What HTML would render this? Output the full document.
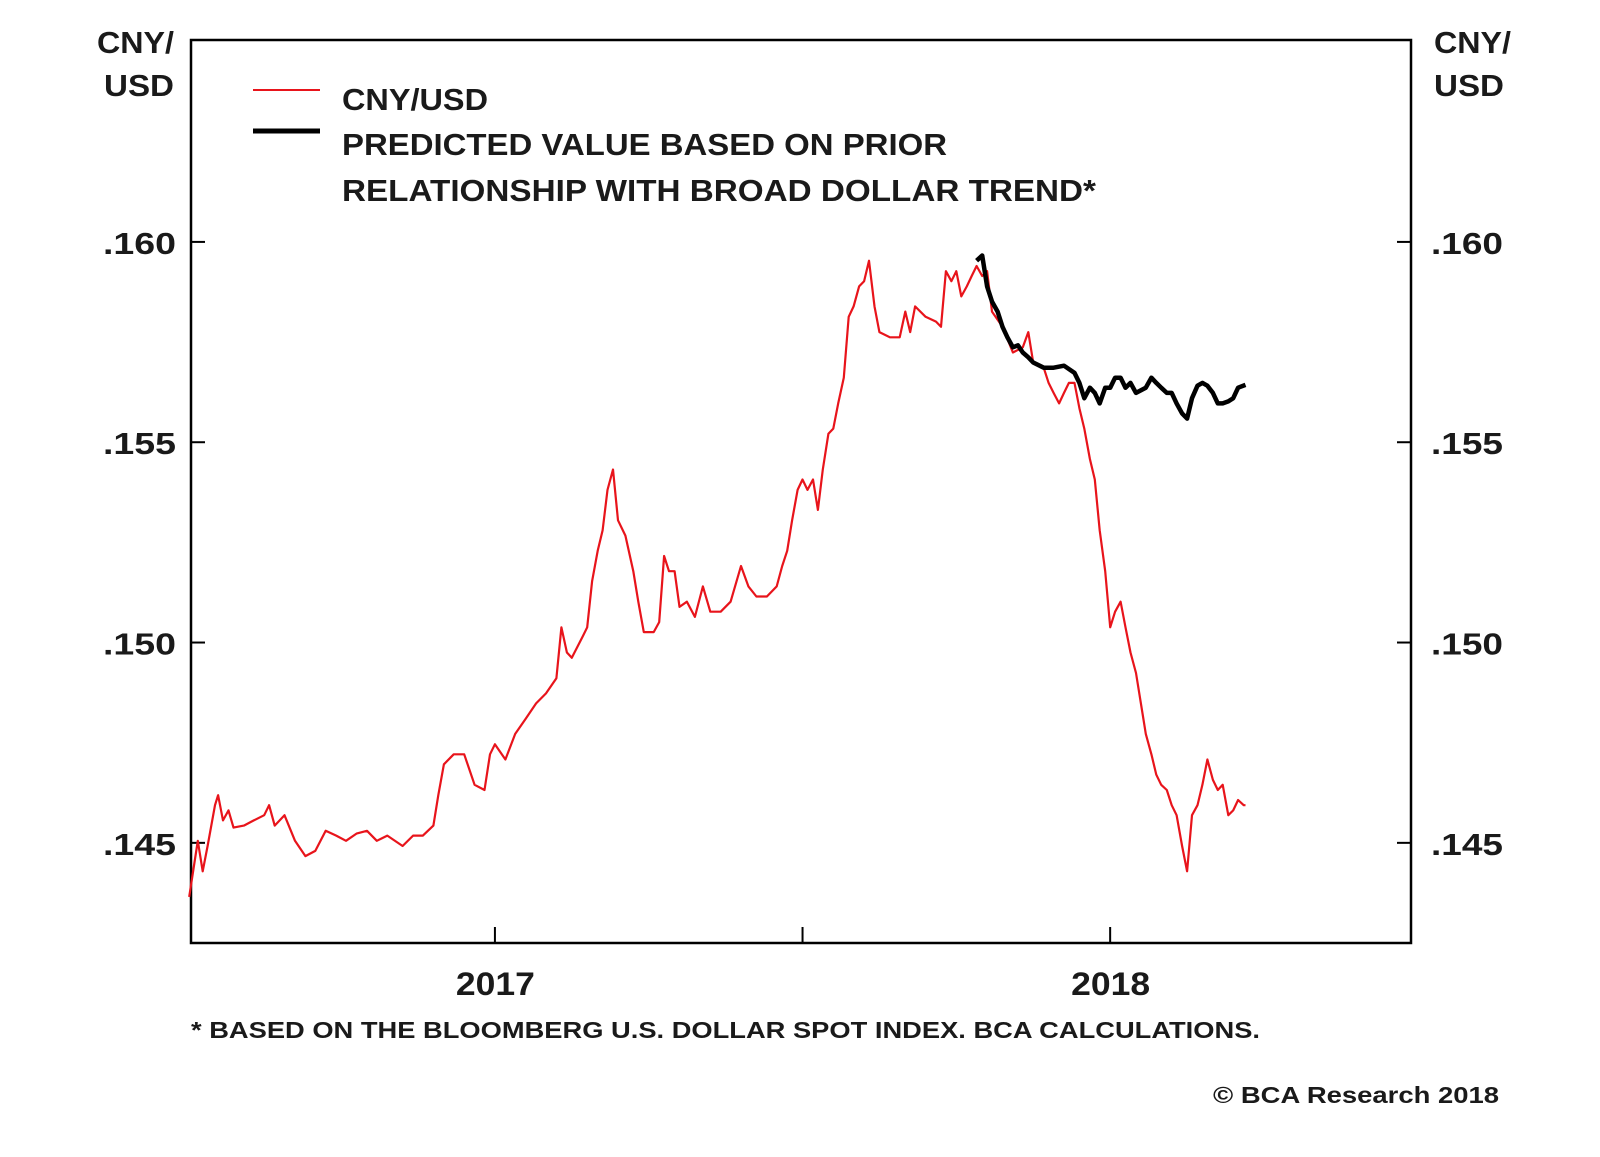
<!DOCTYPE html>
<html><head><meta charset="utf-8"><style>
body{margin:0;background:#fff;}
svg text{font-family:"Liberation Sans",Arial,sans-serif;font-weight:bold;fill:#1a1a1a;}
</style></head><body>
<svg id="chart" width="1600" height="1152" viewBox="0 0 1600 1152" xmlns="http://www.w3.org/2000/svg">
<rect x="0" y="0" width="1600" height="1152" fill="#fff"/>
<g id="axes"></g>
<g id="series"></g>
<g>
<line x1="253" y1="90" x2="320" y2="90" stroke="#e8141b" stroke-width="2"/>
<line x1="253" y1="131" x2="320" y2="131" stroke="#000" stroke-width="5"/>
<text x="342" y="110" font-size="31" textLength="146" lengthAdjust="spacingAndGlyphs">CNY/USD</text>
<text x="342" y="155" font-size="31" textLength="605" lengthAdjust="spacingAndGlyphs">PREDICTED VALUE BASED ON PRIOR</text>
<text x="342" y="201" font-size="31" textLength="754" lengthAdjust="spacingAndGlyphs">RELATIONSHIP WITH BROAD DOLLAR TREND*</text>
</g>
<text x="97" y="53" font-size="31" textLength="77" lengthAdjust="spacingAndGlyphs">CNY/</text>
<text x="104" y="96" font-size="31" textLength="70" lengthAdjust="spacingAndGlyphs">USD</text>
<text x="1434" y="53" font-size="31" textLength="77" lengthAdjust="spacingAndGlyphs">CNY/</text>
<text x="1434" y="96" font-size="31" textLength="70" lengthAdjust="spacingAndGlyphs">USD</text>
<text x="191" y="1038" font-size="23" textLength="1069" lengthAdjust="spacingAndGlyphs">* BASED ON THE BLOOMBERG U.S. DOLLAR SPOT INDEX. BCA CALCULATIONS.</text>
<text x="1213" y="1103" font-size="23" textLength="286" lengthAdjust="spacingAndGlyphs">© BCA Research 2018</text>
</svg>
<script>
const yTicks=[0.145,0.150,0.155,0.160];
const yTickLabels=[".145",".150",".155",".160"];
const xTicks=[2017,2017.5,2018];
const xLabels=[{v:2017,t:"2017"},{v:2018,t:"2018"}];
const cnyDates=[2016.503,2016.517,2016.525,2016.533,2016.545,2016.550,2016.558,2016.567,2016.575,2016.592,2016.608,2016.625,2016.633,2016.642,2016.658,2016.675,2016.692,2016.708,2016.725,2016.742,2016.758,2016.775,2016.792,2016.808,2016.825,2016.850,2016.867,2016.883,2016.900,2016.908,2016.917,2016.933,2016.950,2016.967,2016.983,2016.992,2017.000,2017.017,2017.033,2017.050,2017.067,2017.083,2017.100,2017.108,2017.117,2017.125,2017.142,2017.150,2017.158,2017.167,2017.175,2017.183,2017.192,2017.200,2017.212,2017.225,2017.233,2017.242,2017.258,2017.267,2017.275,2017.283,2017.292,2017.300,2017.312,2017.325,2017.338,2017.350,2017.367,2017.383,2017.400,2017.412,2017.425,2017.442,2017.458,2017.467,2017.475,2017.483,2017.492,2017.500,2017.508,2017.517,2017.525,2017.533,2017.542,2017.550,2017.558,2017.567,2017.575,2017.583,2017.592,2017.600,2017.608,2017.617,2017.625,2017.642,2017.658,2017.667,2017.675,2017.683,2017.700,2017.717,2017.725,2017.733,2017.742,2017.750,2017.758,2017.767,2017.775,2017.783,2017.792,2017.800,2017.808,2017.825,2017.842,2017.858,2017.867,2017.875,2017.892,2017.900,2017.908,2017.917,2017.925,2017.933,2017.942,2017.950,2017.958,2017.967,2017.975,2017.983,2017.992,2018.000,2018.008,2018.017,2018.025,2018.033,2018.042,2018.050,2018.058,2018.067,2018.075,2018.083,2018.092,2018.100,2018.108,2018.117,2018.125,2018.133,2018.142,2018.150,2018.158,2018.167,2018.175,2018.183,2018.192,2018.200,2018.208,2018.217,2018.220];
const cnyValues=[0.14365,0.14505,0.14429,0.14492,0.14594,0.14619,0.14556,0.14581,0.14538,0.14543,0.14556,0.14569,0.14594,0.14543,0.14569,0.14505,0.14467,0.14480,0.14530,0.14518,0.14505,0.14523,0.14530,0.14505,0.14518,0.14492,0.14518,0.14518,0.14543,0.14619,0.14696,0.14721,0.14721,0.14645,0.14632,0.14721,0.14746,0.14708,0.14772,0.14810,0.14848,0.14873,0.14911,0.15038,0.14975,0.14962,0.15013,0.15038,0.15153,0.15229,0.15280,0.15381,0.15432,0.15305,0.15267,0.15178,0.15102,0.15026,0.15026,0.15051,0.15216,0.15178,0.15178,0.15089,0.15102,0.15064,0.15140,0.15077,0.15077,0.15102,0.15191,0.15140,0.15115,0.15115,0.15140,0.15191,0.15229,0.15305,0.15381,0.15407,0.15381,0.15407,0.15331,0.15432,0.15521,0.15534,0.15597,0.15661,0.15813,0.15839,0.15889,0.15902,0.15953,0.15839,0.15775,0.15762,0.15762,0.15826,0.15775,0.15839,0.15813,0.15801,0.15788,0.15927,0.15902,0.15927,0.15864,0.15889,0.15915,0.15940,0.15915,0.15927,0.15826,0.15788,0.15724,0.15737,0.15775,0.15699,0.15686,0.15648,0.15623,0.15597,0.15623,0.15648,0.15648,0.15585,0.15534,0.15458,0.15407,0.15280,0.15178,0.15038,0.15077,0.15102,0.15038,0.14975,0.14924,0.14848,0.14772,0.14721,0.14670,0.14645,0.14632,0.14594,0.14569,0.14492,0.14429,0.14569,0.14594,0.14645,0.14708,0.14657,0.14632,0.14645,0.14569,0.14581,0.14607,0.14594,0.14594];
const predDates=[2017.783,2017.792,2017.800,2017.808,2017.817,2017.825,2017.833,2017.842,2017.850,2017.858,2017.867,2017.875,2017.892,2017.908,2017.925,2017.942,2017.950,2017.958,2017.967,2017.975,2017.983,2017.992,2018.000,2018.008,2018.017,2018.025,2018.033,2018.042,2018.058,2018.067,2018.075,2018.083,2018.092,2018.100,2018.108,2018.117,2018.125,2018.133,2018.142,2018.150,2018.158,2018.167,2018.175,2018.183,2018.192,2018.200,2018.208,2018.220];
const predValues=[0.15953,0.15966,0.15889,0.15851,0.15826,0.15788,0.15762,0.15737,0.15742,0.15724,0.15712,0.15699,0.15686,0.15686,0.15691,0.15673,0.15648,0.15610,0.15636,0.15623,0.15597,0.15636,0.15636,0.15661,0.15661,0.15636,0.15648,0.15623,0.15636,0.15661,0.15648,0.15636,0.15623,0.15623,0.15597,0.15572,0.15559,0.15610,0.15641,0.15648,0.15641,0.15623,0.15597,0.15597,0.15602,0.15610,0.15636,0.15643];
const PL=191,PR=1411,PT=40,PB=943;
const X0=2016.506,X1=2018.489,Y0=0.14250,Y1=0.16504;
function xs(v){return PL+(v-X0)/(X1-X0)*(PR-PL);}
function ys(v){return PB-(v-Y0)/(Y1-Y0)*(PB-PT);}
const NS="http://www.w3.org/2000/svg";
function mk(tag,attrs,parent){const e=document.createElementNS(NS,tag);for(const k in attrs)e.setAttribute(k,attrs[k]);parent.appendChild(e);return e;}
const axes=document.getElementById('axes');
const frame=mk('rect',{x:PL,y:PT,width:PR-PL,height:PB-PT,fill:'none',stroke:'#000','stroke-width':2.5},axes);


yTicks.forEach((v,i)=>{
 const y=ys(v);
 const t1=mk('line',{x1:PL,y1:y,x2:PL+14,y2:y,stroke:'#000','stroke-width':2},axes);
 
 
 const t2=mk('line',{x1:PR-14,y1:y,x2:PR,y2:y,stroke:'#000','stroke-width':2},axes);
 
 
 const l1=mk('text',{x:103,y:y+12,'font-size':31,textLength:73,lengthAdjust:'spacingAndGlyphs'},axes);l1.textContent=yTickLabels[i];
 
 
 const l2=mk('text',{x:1431,y:y+12,'font-size':31,textLength:72,lengthAdjust:'spacingAndGlyphs'},axes);l2.textContent=yTickLabels[i];
 
 
});
xTicks.forEach(v=>{
 const x=xs(v);
 const t=mk('line',{x1:x,y1:PB-16,x2:x,y2:PB,stroke:'#000','stroke-width':2},axes);
 
 
});
xLabels.forEach(o=>{
 const l=mk('text',{x:xs(o.v)-39,y:995,'font-size':32,textLength:79,lengthAdjust:'spacingAndGlyphs'},axes);l.textContent=o.t;
 
 
});
const series=document.getElementById('series');
function path(d,v){return d.map((t,i)=>(i?'L':'M')+xs(t).toFixed(1)+','+ys(v[i]).toFixed(1)).join(' ');}
const red=mk('path',{d:path(cnyDates,cnyValues),fill:'none',stroke:'#e8141b','stroke-width':2.2,'stroke-linejoin':'round'},series);


const blk=mk('path',{d:path(predDates,predValues),fill:'none',stroke:'#000','stroke-width':4.5,'stroke-linejoin':'round'},series);


</script>
</body></html>
